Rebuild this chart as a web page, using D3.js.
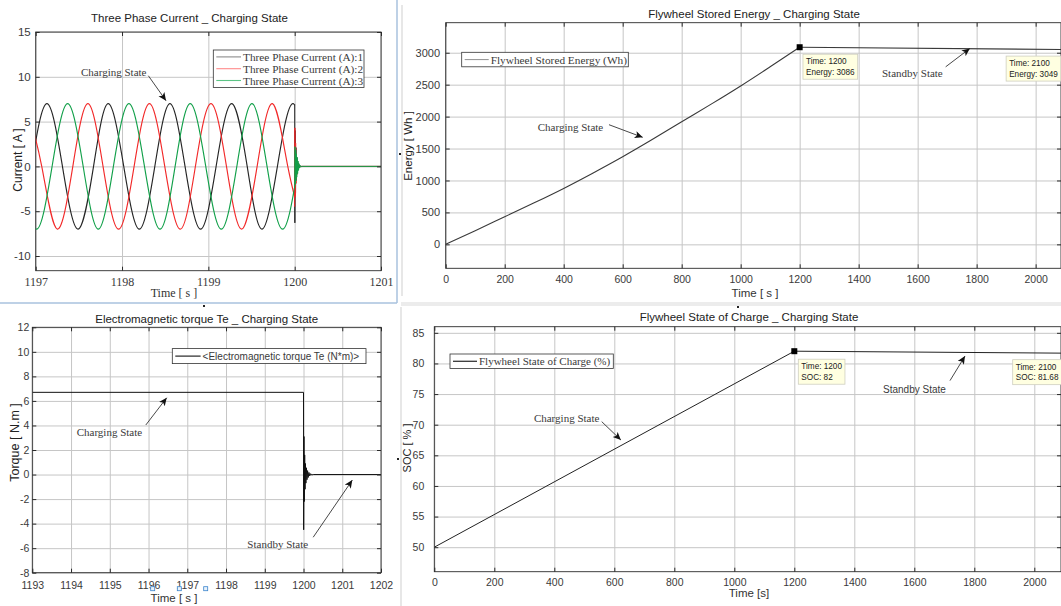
<!DOCTYPE html>
<html><head><meta charset="utf-8">
<script src="https://cdn.jsdelivr.net/npm/d3@7"></script>
<style>
body{margin:0;background:#fff;}
svg{display:block;}
</style></head><body>
<svg id="chart" width="1061" height="606"></svg>
<script>
// ================= DATA =================
// Panel 1 : three phase current [time s, current A] - peaks / zero crossings / troughs
const currentTicksX = [1197, 1198, 1199, 1200, 1201];
const currentTicksY = [-10, -5, 0, 5, 10, 15];
const currentPhase1 = [[1196.95,0],[1197.13,7],[1197.31,0],[1197.49,-7],[1197.67,0],[1197.84,7],[1198.02,0],[1198.20,-7],[1198.38,0],[1198.555,7],[1198.73,0],[1198.91,-7],[1199.09,0],[1199.27,7],[1199.45,0],[1199.62,-7],[1199.80,0],[1199.98,7],[1200.16,0]];
const currentPhase2 = [[1196.89,7],[1197.07,0],[1197.25,-7],[1197.43,0],[1197.605,7],[1197.78,0],[1197.96,-7],[1198.14,0],[1198.3175,7],[1198.495,0],[1198.675,-7],[1198.85,0],[1199.03,7],[1199.21,0],[1199.385,-7],[1199.565,0],[1199.7425,7],[1199.92,0],[1200.10,-7]];
const currentPhase3 = [[1196.83,0],[1197.01,-7],[1197.19,0],[1197.37,7],[1197.55,0],[1197.725,-7],[1197.90,0],[1198.08,7],[1198.26,0],[1198.44,-7],[1198.615,0],[1198.79,7],[1198.97,0],[1199.15,-7],[1199.33,0],[1199.505,7],[1199.68,0],[1199.86,-7],[1200.04,0]];
// transients after the switch at 1200 s
const currentTrans1 = [[1200.00,6.95],[1200.002,-6.3],[1200.006,4.0],[1200.01,-3.0],[1200.015,2.1],[1200.02,-1.5],[1200.026,1.0],[1200.032,-0.65],[1200.039,0.4],[1200.046,-0.22],[1200.055,0.1],[1200.07,0],[1201,0]];
const currentTrans2 = [[1200.00,-4.5],[1200.003,4.3],[1200.007,-3.4],[1200.011,2.6],[1200.016,-1.9],[1200.021,1.3],[1200.027,-0.9],[1200.033,0.55],[1200.04,-0.32],[1200.048,0.18],[1200.057,-0.08],[1200.07,0],[1201,0]];
const currentTrans3 = [[1200.00,-2.4],[1200.004,2.2],[1200.008,-2.0],[1200.012,1.8],[1200.016,-1.6],[1200.02,1.4],[1200.024,-1.2],[1200.029,1.0],[1200.034,-0.8],[1200.039,0.6],[1200.045,-0.45],[1200.051,0.3],[1200.058,-0.18],[1200.066,0.1],[1200.075,-0.04],[1200.085,0],[1201,0]];
const currentNames = ["Three Phase Current (A):1", "Three Phase Current (A):2", "Three Phase Current (A):3"];
const currentColors = ["#262626", "#f22a2a", "#12a04a"];
const switchTime = 1200;

// Panel 2 : flywheel stored energy
const energyTicksX = [0,200,400,600,800,1000,1200,1400,1600,1800,2000];
const energyTicksY = [0,500,1000,1500,2000,2500,3000];
const energyTime = [0,100,200,300,400,500,600,700,800,900,1000,1100,1200];
const energyCharge = [0,213,432,650,876,1118,1371,1640,1919,2195,2480,2780,3086];
const energyStandbyTime = [1200, 2100];
const energyStandby = [3086, 3049];

// Panel 3 : electromagnetic torque
const torqueTicksX = [1193,1194,1195,1196,1197,1198,1199,1200,1201,1202];
const torqueTicksY = [-8,-6,-4,-2,0,2,4,6,8,10,12];
const torque = [[1193,6.7],[1200,6.7],[1200.004,-4.5],[1200.012,3.1],[1200.02,-2.2],[1200.03,1.6],[1200.04,-1.2],[1200.05,0.9],[1200.062,-0.7],[1200.075,0.55],[1200.09,-0.42],[1200.105,0.32],[1200.12,-0.24],[1200.14,0.17],[1200.16,-0.11],[1200.185,0.07],[1200.21,-0.04],[1200.25,0],[1202,0]];

// Panel 4 : state of charge
const socTicksX = [0,200,400,600,800,1000,1200,1400,1600,1800,2000];
const socTicksY = [50,55,60,65,70,75,80,85];
const socTime = [0, 1200, 2100];
const soc = [50, 82, 81.68];

// ================= DRAWING =================
const SANS = "'Liberation Sans', Arial, sans-serif";
const SERIF = "'Liberation Serif', 'Times New Roman', serif";
const GRID = "#c6c6c6";
const AXIS = "#2b2b2b";
const svg = d3.select("#chart");
const defs = svg.append("defs");
defs.append("marker").attr("id","arrow").attr("viewBox","0 0 10 10")
  .attr("refX",10).attr("refY",5).attr("markerWidth",8).attr("markerHeight",8)
  .attr("markerUnits","userSpaceOnUse").attr("orient","auto")
  .append("path").attr("d","M0,0.5 L10,5 L0,9.5 L2.5,5 Z").attr("fill","#111");

// panel frames / separators
svg.append("line").attr("x1",397).attr("y1",0).attr("x2",397).attr("y2",303).attr("stroke","#a9c2de").attr("stroke-width",1.5);
svg.append("line").attr("x1",0).attr("y1",303).attr("x2",397).attr("y2",303).attr("stroke","#a9c2de").attr("stroke-width",1.5);
svg.append("line").attr("x1",402).attr("y1",5).attr("x2",402).attr("y2",296).attr("stroke","#cfcfcf");
svg.append("line").attr("x1",401).attr("y1",307).attr("x2",401).attr("y2",606).attr("stroke","#cfcfcf");
svg.append("rect").attr("x",401).attr("y",302).attr("width",660).attr("height",4).attr("fill","#ececec");
[[399,153],[203,305],[737,306],[397,458]].forEach(p=>svg.append("rect").attr("x",p[0]).attr("y",p[1]).attr("width",2).attr("height",2).attr("fill","#222"));

function buildPanel(c) {
  const g = svg.append("g");
  const x = d3.scaleLinear().domain(c.xDomain).range([c.left, c.right]);
  const y = d3.scaleLinear().domain(c.yDomain).range([c.bottom, c.top]);
  const w = c.right - c.left, h = c.bottom - c.top;
  g.append("rect").attr("x",c.left).attr("y",c.top).attr("width",w).attr("height",h).attr("fill","#fff");
  const gx = g.append("g").attr("transform",`translate(0,${c.bottom})`)
    .call(d3.axisBottom(x).tickValues(c.xTicks).tickSize(-h).tickFormat(""));
  gx.select(".domain").remove();
  gx.selectAll("line").attr("stroke",GRID);
  const gy = g.append("g").attr("transform",`translate(${c.left},0)`)
    .call(d3.axisLeft(y).tickValues(c.yTicks).tickSize(-w).tickFormat(""));
  gy.select(".domain").remove();
  gy.selectAll("line").attr("stroke",GRID);

  defs.append("clipPath").attr("id","clip"+c.id).append("rect")
    .attr("x",c.left).attr("y",c.top).attr("width",w).attr("height",h);
  const plot = g.append("g").attr("clip-path",`url(#clip${c.id})`);

  // axes with inward ticks
  const fmt = d => String(d);
  const ab = g.append("g").attr("transform",`translate(0,${c.bottom})`)
    .call(d3.axisBottom(x).tickValues(c.xTicks).tickSizeInner(-4).tickSizeOuter(0).tickPadding(c.xPad).tickFormat(fmt));
  ab.selectAll("text").attr("font-family",c.xFont).attr("font-size",c.xFs).attr("fill","#3a3a3a");
  const al = g.append("g").attr("transform",`translate(${c.left},0)`)
    .call(d3.axisLeft(y).tickValues(c.yTicks).tickSizeInner(-4).tickSizeOuter(0).tickPadding(c.yPad).tickFormat(fmt));
  al.selectAll("text").attr("font-family",SANS).attr("font-size",c.yFs).attr("fill","#3a3a3a");
  const at = g.append("g").attr("transform",`translate(0,${c.top})`)
    .call(d3.axisTop(x).tickValues(c.xTicks).tickSizeInner(-4).tickSizeOuter(0).tickFormat(""));
  const ar = g.append("g").attr("transform",`translate(${c.right},0)`)
    .call(d3.axisRight(y).tickValues(c.yTicks).tickSizeInner(-4).tickSizeOuter(0).tickFormat(""));
  [ab,al,at,ar].forEach(a=>{a.select(".domain").remove(); a.selectAll("line").attr("stroke",AXIS);});
  g.append("rect").attr("x",c.left).attr("y",c.top).attr("width",w).attr("height",h)
    .attr("fill","none").attr("stroke",AXIS).attr("stroke-width",0.9);

  // title and labels
  g.append("text").attr("x",c.title[1]).attr("y",c.title[2]).attr("text-anchor","middle")
    .attr("dominant-baseline","central").attr("font-family",SANS).attr("font-size",11.5)
    .attr("fill","#222").text(c.title[0]);
  g.append("text").attr("x",c.xlabel[1]).attr("y",c.xlabel[2]).attr("text-anchor","middle")
    .attr("dominant-baseline","central").attr("font-family",c.xlabel[3]).attr("font-size",c.xlabel[4])
    .attr("fill","#333").text(c.xlabel[0]);
  g.append("text").attr("transform",`translate(${c.ylabel[1]},${c.ylabel[2]}) rotate(-90)`)
    .attr("text-anchor","middle").attr("dominant-baseline","central")
    .attr("font-family",SANS).attr("font-size",c.ylabel[3]).attr("fill","#222").text(c.ylabel[0]);
  return {g, plot, x, y, c, w, h};
}

function drawLine(parent, p, data, color, curve, width) {
  parent.append("path").datum(data)
    .attr("d", d3.line().x(d=>p.x(d[0])).y(d=>p.y(d[1])).curve(curve || d3.curveLinear))
    .attr("fill","none").attr("stroke",color).attr("stroke-width",width || 1.1)
    .attr("stroke-linejoin","round");
}

function annotate(p, pos, text, font, size, from, to) {
  p.g.append("text").attr("x",p.x(pos[0])).attr("y",p.y(pos[1]))
    .attr("dominant-baseline","central").attr("font-family",font).attr("font-size",size)
    .attr("fill","#3a3a3a").text(text);
  p.g.append("line").attr("x1",p.x(from[0])).attr("y1",p.y(from[1]))
    .attr("x2",p.x(to[0])).attr("y2",p.y(to[1])).attr("stroke","#333").attr("stroke-width",0.9)
    .attr("marker-end","url(#arrow)");
}

function legend(p, dx, dy, w, rowH, names, colors, font, size, lineLen) {
  const L = p.c.left + dx, T = p.c.top + dy;
  const lg = p.g.append("g");
  lg.append("rect").attr("x",L).attr("y",T).attr("width",w).attr("height",rowH*names.length+2)
    .attr("fill","#fff").attr("stroke","#333").attr("stroke-width",0.8);
  names.forEach((n,i)=>{
    const cy = T + 1 + rowH*(i+0.5);
    lg.append("line").attr("x1",L+3).attr("x2",L+3+lineLen).attr("y1",cy).attr("y2",cy)
      .attr("stroke",colors[i]).attr("stroke-width",1.1);
    lg.append("text").attr("x",L+5+lineLen).attr("y",cy).attr("dominant-baseline","central")
      .attr("font-family",font).attr("font-size",size).attr("fill","#3a3a3a").text(n);
  });
}

function dataTip(p, t, v, dx, dy, lines) {
  const px = p.x(t), py = p.y(v);
  if (px <= p.c.right + 1) {
    p.g.append("rect").attr("x",px-3).attr("y",py-3).attr("width",6).attr("height",6).attr("fill","#000");
  }
  const tg = p.g.append("g");
  const box = tg.append("rect").attr("fill","#ffffe1").attr("stroke","#cfcfc0").attr("stroke-width",0.8);
  const texts = lines.map((s,i)=>tg.append("text").attr("x",px+dx+3).attr("y",py+dy+9+i*10.5)
    .attr("font-family",SANS).attr("font-size",8.2).attr("fill","#222").text(s));
  const tw = d3.max(texts, tx=>tx.node().getComputedTextLength());
  box.attr("x",px+dx).attr("y",py+dy-1).attr("width",tw+6).attr("height",25);
}

// ---------- Panel 1 ----------
const p1 = buildPanel({id:1, left:35.7, right:381, top:32, bottom:270.7,
  xDomain:[1197,1201], yDomain:[-11.64,15], xTicks:currentTicksX, yTicks:currentTicksY,
  xFont:SERIF, xFs:12, xPad:6.8, yFs:11.5, yPad:5,
  title:["Three Phase Current _ Charging State",189.5,18.3],
  xlabel:["Time [ s ]",174,293.3,SERIF,12], ylabel:["Current [ A ]",18.3,160,12]});
// steady sinusoids are shown only up to the switching instant
defs.append("clipPath").attr("id","clipSteady").append("rect")
  .attr("x",p1.c.left).attr("y",p1.c.top).attr("width",p1.x(switchTime)-p1.c.left).attr("height",p1.h);
const steady = p1.g.append("g").attr("clip-path","url(#clipSteady)");
[currentPhase1,currentPhase2,currentPhase3].forEach((d,i)=>drawLine(steady,p1,d,currentColors[i],d3.curveNatural,1.15));
[currentTrans1,currentTrans2,currentTrans3].forEach((d,i)=>drawLine(p1.plot,p1,d,currentColors[i],d3.curveLinear,1.0));
legend(p1, 177.6, 18, 150.7, 11.8, currentNames, ["#8c8c8c","#ff8a8a","#5cc485"], SERIF, 11.3, 24.7);
annotate(p1,[1197.525,10.57],"Charging State",SERIF,11,[1198.305,10.12],[1198.51,7.33]);

// ---------- Panel 2 ----------
const p2 = buildPanel({id:2, left:445.7, right:1061, top:22.7, bottom:268.3,
  xDomain:[0,2086], yDomain:[-375,3470], xTicks:energyTicksX, yTicks:energyTicksY,
  xFont:SANS, xFs:10.5, xPad:7, yFs:11, yPad:5.7,
  title:["Flywheel Stored Energy _ Charging State",754,14],
  xlabel:["Time [ s ]",755,293,SANS,11.5], ylabel:["Energy [ Wh ]",408,146,11.5]});
drawLine(p2.plot, p2, energyTime.map((t,i)=>[t,energyCharge[i]]), "#3a3a3a", d3.curveMonotoneX, 1.1);
drawLine(p2.plot, p2, energyStandbyTime.map((t,i)=>[t,energyStandby[i]]), "#3a3a3a", d3.curveLinear, 1.1);
legend(p2, 16, 29.6, 166.6, 12.5, ["Flywheel Stored Energy (Wh)"], ["#9a9a9a"], SERIF, 11.3, 24);
annotate(p2,[312,1840],"Charging State",SERIF,11,[553.6,1873],[668,1675]);
annotate(p2,[1479,2681],"Standby State",SERIF,11,[1695,2779],[1777,3067]);
dataTip(p2, energyStandbyTime[0], energyStandby[0], 3.3, 8, ["Time: 1200","Energy: "+energyStandby[0]]);
dataTip(p2, energyStandbyTime[1], energyStandby[1], -59, 7.5, ["Time: 2100","Energy: "+energyStandby[1]]);

// ---------- Panel 3 ----------
const p3 = buildPanel({id:3, left:32.3, right:381, top:327.3, bottom:572.7,
  xDomain:[1193,1202], yDomain:[-8,12], xTicks:torqueTicksX, yTicks:torqueTicksY,
  xFont:SANS, xFs:10.5, xPad:9.3, yFs:10.5, yPad:3,
  title:["Electromagnetic torque Te _ Charging State",206.7,319],
  xlabel:["Time [ s ]",174,597.7,SANS,11.5], ylabel:["Torque [ N.m ]",15,442.5,12.5]});
drawLine(p3.plot, p3, torque, "#111", d3.curveLinear, 1.0);
legend(p3, 140, 21.3, 193.7, 13, ["<Electromagnetic torque Te (N*m)>"], ["#111"], SANS, 10, 25.3);
annotate(p3,[1194.146,3.44],"Charging State",SERIF,11,[1195.93,4.04],[1196.47,6.26]);
annotate(p3,[1198.55,-5.69],"Standby State",SERIF,11,[1200.25,-5.11],[1201.26,-0.45]);
// selection handles around the x label
[-21.3, 5.3, 31.7].forEach(dx=>p3.g.append("rect").attr("x",174+dx-2).attr("y",586.7)
  .attr("width",4).attr("height",4).attr("fill","#eaf3fc").attr("stroke","#3a84cc").attr("stroke-width",0.8));

// ---------- Panel 4 ----------
const p4 = buildPanel({id:4, left:434.3, right:1061, top:326.7, bottom:571.7,
  xDomain:[0,2089], yDomain:[46,86], xTicks:socTicksX, yTicks:socTicksY,
  xFont:SANS, xFs:10.5, xPad:7.3, yFs:10.5, yPad:10,
  title:["Flywheel State of Charge _ Charging State",749,317.3],
  xlabel:["Time [s]",749,593,SANS,11.5], ylabel:["SOC [ % ]",407,448,11]});
drawLine(p4.plot, p4, socTime.map((t,i)=>[t,soc[i]]), "#222", d3.curveLinear, 1.0);
legend(p4, 15.7, 27.3, 163.3, 12.5, ["Flywheel State of Charge (%)"], ["#111"], SERIF, 11, 24);
annotate(p4,[332,71.1],"Charging State",SERIF,11,[558,70.5],[622,67.5]);
annotate(p4,[1495.7,75.67],"Standby State",SANS,10,[1719,77.2],[1769,81.2]);
dataTip(p4, socTime[1], soc[1], 4, 9, ["Time: 1200","SOC: "+soc[1]]);
dataTip(p4, socTime[2], soc[2], -51.6, 7.5, ["Time: 2100","SOC: "+soc[2]]);
</script>
</body></html>
